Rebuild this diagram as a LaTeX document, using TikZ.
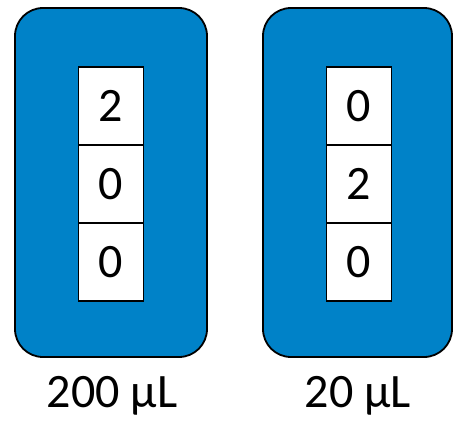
\documentclass[tikz,border=0pt]{standalone}
\usepackage{fontspec}
\setmainfont{Carlito}
\definecolor{chipblue}{HTML}{0082C8}
\begin{document}
\begin{tikzpicture}[x=1pt,y=-1pt,
  chip/.style={draw=black,line width=1.8pt,fill=chipblue,rounded corners=28pt},
  cell/.style={draw=black,line width=1.2pt,fill=white,minimum width=65pt,minimum height=78pt,inner sep=0pt,font=\fontsize{48}{48}\selectfont},
  lab/.style={anchor=base,inner sep=0pt,font=\fontsize{48}{48}\selectfont}]
\useasboundingbox (0,0) rectangle (456,421);
\draw[chip] (15,8) rectangle (207,357);
\draw[chip] (263,8) rectangle (452,357);
\node[cell] (a1) at (111,106) {2};
\node[cell] (a2) at (111,184) {0};
\node[cell] (a3) at (111,262) {0};
\node[cell] (b1) at (359,106) {0};
\node[cell] (b2) at (359,184) {2};
\node[cell] (b3) at (359,262) {0};
\node[lab] (la) at (112,407) {200 µL};
\node[lab] (lb) at (358,407) {20 µL};
\end{tikzpicture}
\end{document}
